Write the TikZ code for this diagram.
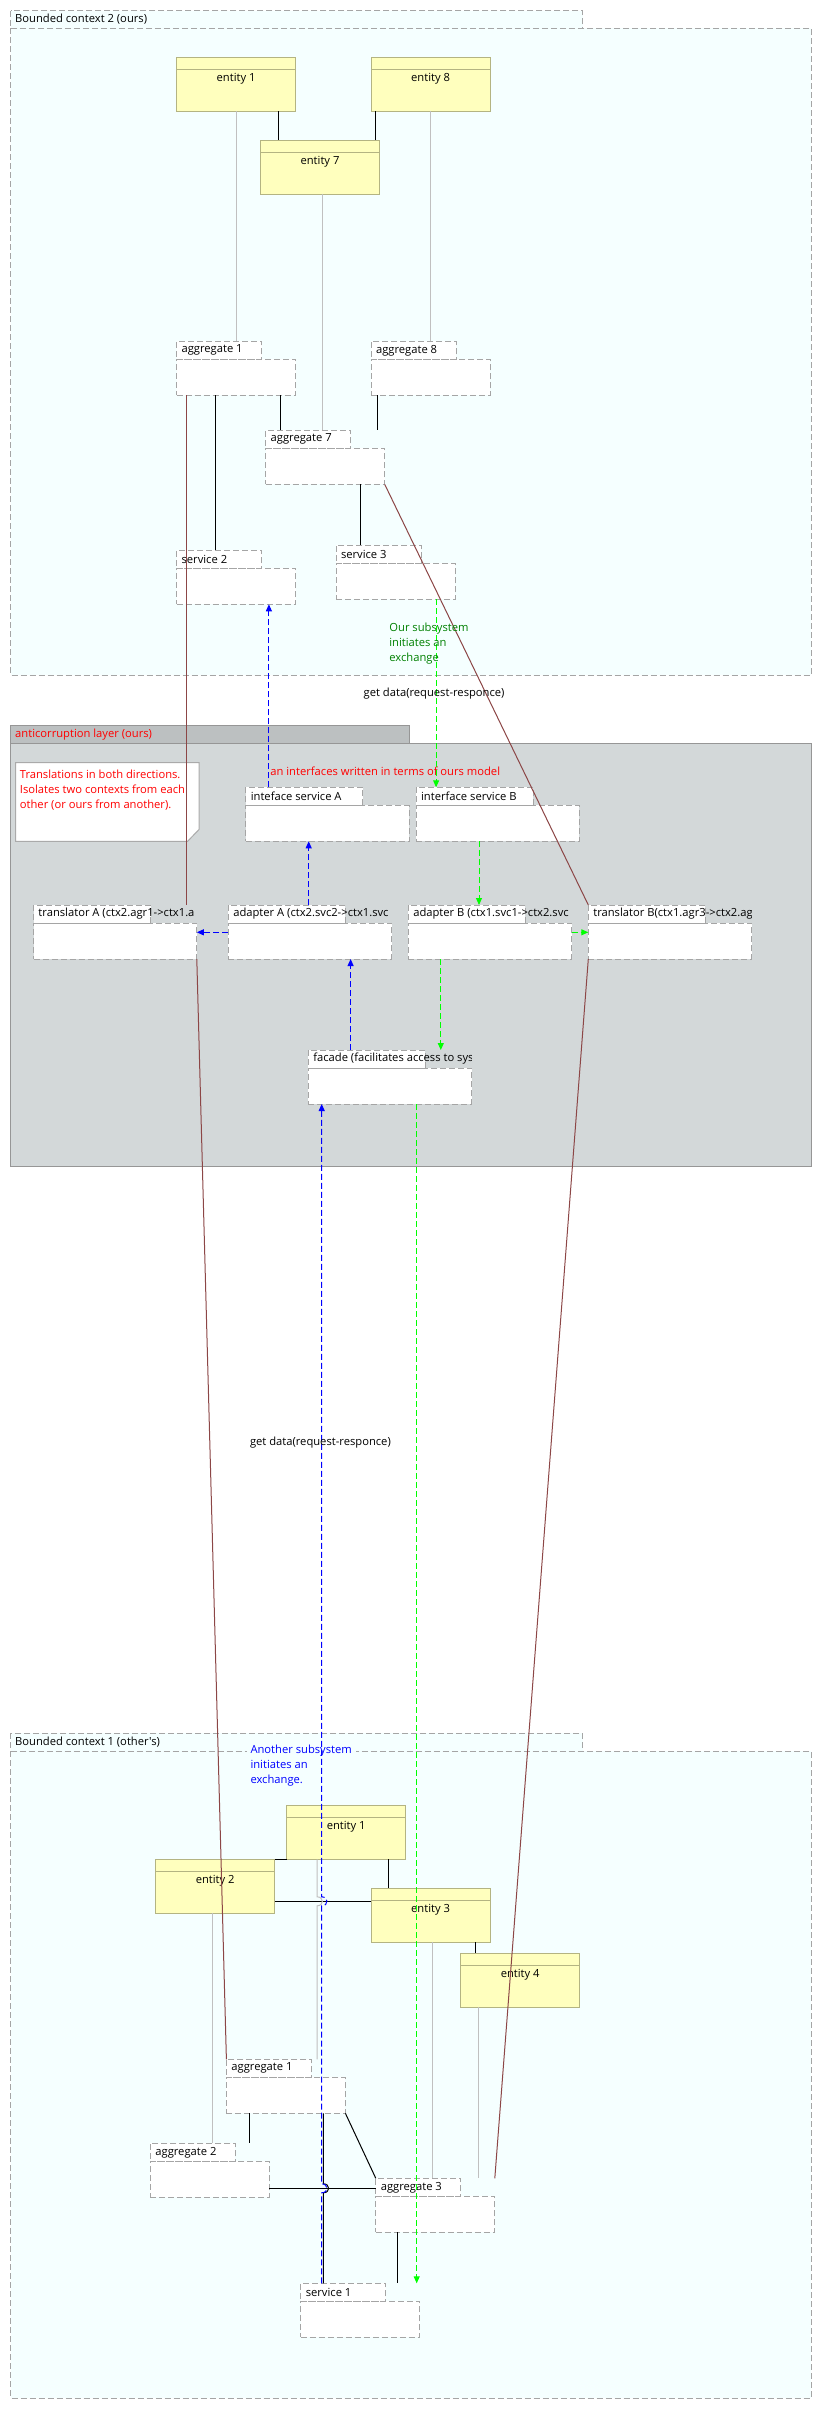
\documentclass[tikz,border=0pt]{standalone}
\usepackage{fontspec}
\newfontfamily\uifont{Open Sans}
\usetikzlibrary{arrows.meta}

\definecolor{ctxfill}{RGB}{245,255,255}
\definecolor{ctxline}{RGB}{165,165,165}
\definecolor{entfill}{RGB}{255,255,190}
\definecolor{entline}{RGB}{180,180,130}
\definecolor{aclfill}{RGB}{211,216,217}
\definecolor{acltab}{RGB}{188,192,193}
\definecolor{aclline}{RGB}{150,150,150}
\definecolor{noteline}{RGB}{170,170,170}
\definecolor{tracelink}{RGB}{140,70,70}
\definecolor{deplink}{RGB}{192,192,192}
\definecolor{exgreen}{RGB}{0,255,0}
\definecolor{notegreen}{RGB}{0,128,0}

\tikzset{
  every node/.style={inner sep=0pt, outer sep=0pt},
  txt/.style={font=\uifont\fontsize{8.4}{11.25}\selectfont, text=black},
  ctxbox/.style={draw=ctxline, fill=ctxfill, dash pattern=on 4.5pt off 2.25pt, line width=0.75pt},
  cbody/.style={draw=ctxline, fill=white, dash pattern=on 4.5pt off 2.25pt, line width=0.75pt, minimum height=27pt},
  ctab/.style={cbody, minimum height=13.5pt},
  clabel/.style={txt, anchor=west},
  ent/.style={draw=entline, fill=entfill, line width=0.75pt, minimum width=89.25pt, minimum height=40.5pt},
  entsep/.style={draw=entline, line width=0.75pt},
  assoc/.style={draw=black, line width=0.75pt},
  dep/.style={draw=deplink, line width=0.75pt},
  trace/.style={draw=tracelink, line width=0.75pt},
  flowtip/.style={-{Triangle[length=5.25pt,width=4.5pt]}},
  bluearrow/.style={draw=blue, line width=0.75pt, dash pattern=on 4.5pt off 2.25pt, flowtip},
  greenarrow/.style={draw=exgreen, line width=0.75pt, dash pattern=on 4.5pt off 2.25pt, flowtip},
}

% component box: #1 name, #2 x, #3 y (top of tab), #4 tab width, #5 body width, #6 label
\newcommand\compbox[6]{%
  \node[cbody, minimum width={#5*0.75pt}, anchor=north west] (#1) at (#2,#3+18) {};
  \node[ctab, minimum width={#4*0.75pt}, anchor=north west] (#1t) at (#2,#3) {};
  \begin{scope}
    \clip (#1t.north west) rectangle (#1.north east);
    \node[clabel] (#1l) at ([xshift=3.75pt]#1t.west) {#6};
  \end{scope}}

% entity box: #1 name, #2 x, #3 y, #4 label
\newcommand\entitybox[4]{%
  \node[ent, anchor=north west] (#1) at (#2,#3) {};
  \draw[entsep] ([yshift=-9pt]#1.north west) -- ([yshift=-9pt]#1.north east);
  \node[txt] (#1l) at ([yshift=-15.75pt]#1.north) {#4};}

% vertical connector at abscissa #4 between two node anchors
\newcommand\vconn[4][]{\draw[#1] (#2 -| #4,0) -- (#3 -| #4,0);}
% horizontal connector at ordinate #4 between two node anchors
\newcommand\hconn[4][]{\draw[#1] (#2 |- 0,#4) -- (#3 |- 0,#4);}

\begin{document}
\begin{tikzpicture}[x=0.75pt,y=-0.75pt]
\useasboundingbox (0,0) rectangle (821,2409);

% ---------- containers ----------
\path[ctxbox] (10.5,28.3) rectangle (811.3,675.3);
\path[ctxbox] (10.5,10.7) rectangle (582.8,28.3);
\node[txt, anchor=west] (ctx2lbl) at (15.2,19.5) {Bounded context 2 (ours)};

\path[draw=aclline, fill=aclfill, line width=0.75pt] (10.5,743.3) rectangle (811.3,1166);
\path[draw=aclline, fill=acltab, line width=0.75pt] (10.5,725.3) rectangle (409.9,743.3);
\node[txt, anchor=west, text=red] (acllbl) at (15.2,734.3) {anticorruption layer (ours)};

\path[ctxbox] (10.5,1751.3) rectangle (811.3,2398.3);
\path[ctxbox] (10.5,1733.3) rectangle (582.8,1751.3);
\node[txt, anchor=west] (ctx1lbl) at (15.2,1742.3) {Bounded context 1 (other's)};

% ---------- bounded context 2 ----------
\entitybox{c2e1}{176.6}{57.3}{entity 1}
\entitybox{c2e8}{371.1}{57.3}{entity 8}
\entitybox{c2e7}{260.5}{140.3}{entity 7}

\compbox{c2agg1}{176.6}{341.3}{85}{119}{aggregate 1}
\compbox{c2agg8}{371.1}{341.3}{85}{119}{aggregate 8}
\compbox{c2agg7}{265.7}{430.3}{85}{119}{aggregate 7}
\compbox{c2svc2}{176.6}{550.3}{85}{119}{service 2}
\compbox{c2svc3}{336}{545.3}{85}{119}{service 3}

% ---------- anticorruption layer ----------
\path[draw=noteline, fill=white, line width=0.75pt] (15.7,762.7) -- (199.2,762.7) -- (199.2,829.3) -- (187.6,841.3) -- (15.7,841.3) -- cycle;
\node[txt, anchor=west, text=red, align=left] (trnote) at (19.9,790) {Translations in both directions.\\Isolates two contexts from each\\other (or ours from another).};
\node[txt, anchor=west, text=red] (ifnote) at (270.4,771) {an interfaces written in terms of ours model};

\compbox{ifA}{245.8}{787.3}{117}{163.3}{inteface service A}
\compbox{ifB}{416.1}{787.3}{117}{163.3}{interface service B}
\compbox{trA}{33.5}{905}{117}{163.3}{translator A (ctx2.agr1->ctx1.a}
\compbox{adA}{228.3}{905}{117}{163.3}{adapter A (ctx2.svc2->ctx1.svc}
\compbox{adB}{408.3}{905}{117}{163.3}{adapter B (ctx1.svc1->ctx2.svc}
\compbox{trB}{588.3}{905}{117}{163.3}{translator B(ctx1.agr3->ctx2.ag}
\compbox{fac}{308.3}{1050}{117}{163.3}{facade (facilitates access to sys}

% ---------- bounded context 1 ----------
\entitybox{c1e1}{286.7}{1805.3}{entity 1}
\entitybox{c1e2}{155.7}{1859.3}{entity 2}
\entitybox{c1e3}{371.1}{1888.3}{entity 3}
\entitybox{c1e4}{460.7}{1953.3}{entity 4}

\compbox{c1agg1}{226.4}{2059.3}{85}{119}{aggregate 1}
\compbox{c1agg2}{150.4}{2143.3}{85}{119}{aggregate 2}
\compbox{c1agg3}{375.8}{2178.3}{85}{119}{aggregate 3}
\compbox{c1svc1}{300.8}{2283.3}{85}{119}{service 1}

\node[txt, anchor=west, text=blue, align=left, fill=ctxfill, inner xsep=3pt, inner ysep=1pt] (anothersub) at (246.5,1766) {Another subsystem\\initiates an\\exchange.};

% ---------- links inside bounded context 2 ----------
\vconn[assoc]{c2e1.south}{c2e7.north}{278.8}
\vconn[assoc]{c2e8.south}{c2e7.north}{375.8}
\vconn[dep]{c2e1.south}{c2agg1t.north}{236.9}
\vconn[dep]{c2e7.south}{c2agg7t.north}{322.9}
\vconn[dep]{c2e8.south}{c2agg8t.north}{430.8}
\vconn[assoc]{c2agg1.south}{c2svc2t.north}{215.9}
\vconn[assoc]{c2agg1.south}{c2agg7t.north}{280.9}
\vconn[assoc]{c2agg8.south}{c2agg7t.north}{377.9}
\vconn[assoc]{c2agg7.south}{c2svc3t.north}{360.6}

% ---------- links inside bounded context 1 ----------
\draw[assoc] (c1e2.north east) -- (c1e1.south west);
\vconn[assoc]{c1e1.south}{c1e3.north}{388.9}
\hconn[assoc]{c1e2.east}{c1e3.west}{1901.3}
\vconn[assoc]{c1e3.south}{c1e4.north}{475.9}
\vconn[dep]{c1e2.south}{c1agg2t.north}{212.8}
\draw[dep] (c1e1.south -| 317.1,0) -- (317.1,1896.8) .. controls (324.1,1896.8) and (324.1,1905.8) .. (317.1,1905.8) -- (c1agg1t.north -| 317.1,0);
\vconn[dep]{c1e3.south}{c1agg3t.north}{432.9}
\vconn[dep]{c1e4.south}{c1agg3t.north}{478}
\vconn[assoc]{c1agg1.south}{c1agg2t.north}{249}
\draw[assoc] (c1agg1.south east) -- (c1agg3t.north west);
\hconn[assoc]{c1agg2.east}{c1agg3t.west}{2188.3}
\draw[assoc] (c1agg1.south -| 323.4,0) -- (323.4,2183.8) .. controls (330.4,2183.8) and (330.4,2192.8) .. (323.4,2192.8) -- (c1svc1t.north -| 323.4,0);
\vconn[assoc]{c1agg3.south}{c1svc1t.north}{397.8}

% ---------- translation traces ----------
\vconn[trace]{c2agg1.south}{trAt.north}{186.6}
\draw[trace] (c2agg7.south east) -- (trBt.north west);
\draw[trace] (trA.south east) -- (c1agg1t.north west);
\draw[trace] (trB.south west) -- (c1agg3t.north -| c1agg3.east);

% ---------- request flows ----------
\vconn[greenarrow]{c2svc3.south}{ifBt.north}{436.1}
\vconn[greenarrow]{ifB.south}{adBt.north}{479}
\hconn[greenarrow]{adB.east}{trB.west}{932.3}
\vconn[greenarrow]{adB.south}{fact.north}{440.8}
\vconn[greenarrow]{fac.south}{c1svc1t.north}{416.7}

\draw[bluearrow] (c1svc1t.north -| 321.7,0) -- (321.7,2192.8) .. controls (328.7,2192.8) and (328.7,2183.8) .. (321.7,2183.8) -- (321.7,1905.8) .. controls (328.7,1905.8) and (328.7,1896.8) .. (321.7,1896.8) -- (fac.south -| 321.7,0);
\vconn[bluearrow]{fact.north}{adA.south}{350.6}
\hconn[bluearrow]{adA.west}{trA.east}{932.3}
\vconn[bluearrow]{adAt.north}{ifA.south}{308.7}
\vconn[bluearrow]{ifAt.north}{c2svc2.south}{268.9}

% ---------- flow notes ----------
\node[txt, anchor=west, text=notegreen, align=left] (oursub) at (389.4,643.3) {Our subsystem\\initiates an\\exchange};
\node[txt, anchor=west] (getdata1) at (363.7,693.3) {get data(request-responce)};
\node[txt, anchor=west] (getdata2) at (250,1442.7) {get data(request-responce)};
\end{tikzpicture}
\end{document}
